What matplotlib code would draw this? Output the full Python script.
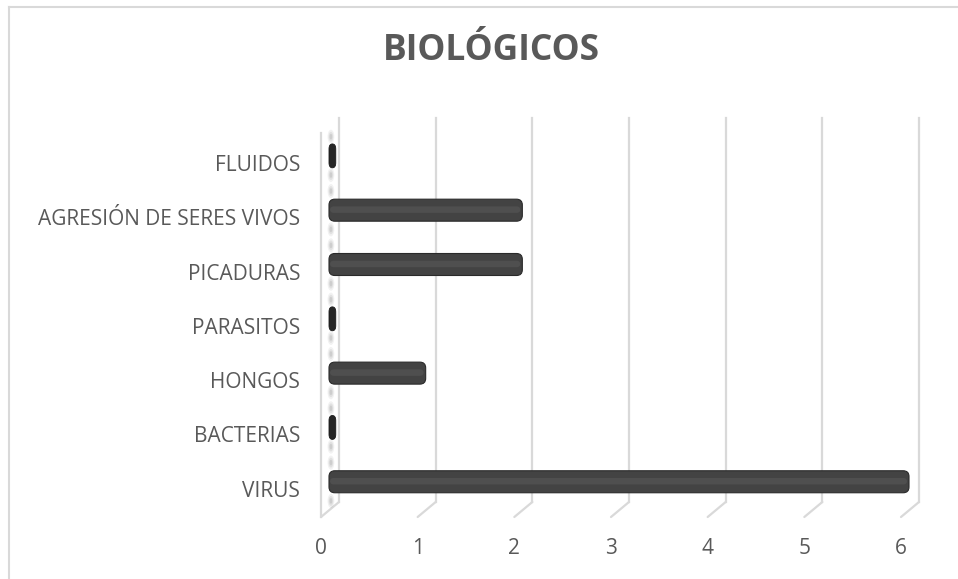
import numpy as np
import matplotlib
matplotlib.use("Agg")
from matplotlib import pyplot as plt
from matplotlib.patches import FancyBboxPatch, Ellipse
from matplotlib.lines import Line2D
from matplotlib.transforms import ScaledTranslation

# data (bottom to top, as drawn)
categories = ["VIRUS", "BACTERIAS", "HONGOS", "PARASITOS", "PICADURAS",
              "AGRESIÓN DE SERES VIVOS", "FLUIDOS"]
values = [6, 0, 1, 0, 2, 2, 0]
x_ticks = [0, 1, 2, 3, 4, 5, 6]
title = "BIOLÓGICOS"

TEXT = "#595959"
GRID = "#d9d9d9"
FONT = "Open Sans"

W, H = 958, 579
fig = plt.figure(figsize=(W / 100, H / 100), dpi=100)

# front plane of the pseudo 3d plot area (pixels)
left, right, top, bottom = 321, 901, 133, 517
ax = fig.add_axes([left / W, 1 - bottom / H, (right - left) / W, (bottom - top) / H])
ax.set_xlim(0, 6)
ax.set_ylim(-0.52, 6.55)
for s in ax.spines.values():
    s.set_visible(False)
ax.patch.set_alpha(0)

# depth offsets
dx_back, dy_back = 18, 15
back = ax.transData + ScaledTranslation(dx_back / 100, dy_back / 100, fig.dpi_scale_trans)
mid = ax.transData + ScaledTranslation(8 / 100, 7 / 100, fig.dpi_scale_trans)

ylo, yhi = ax.get_ylim()
# back wall gridlines + floor diagonals
for t in x_ticks:
    ax.plot([t, t], [ylo, yhi], color=GRID, lw=1.6, transform=back, zorder=1, clip_on=False)
    ax.annotate("", xy=(t, ylo), xytext=(dx_back * 0.72, dy_back * 0.72),
                textcoords="offset points", annotation_clip=False,
                arrowprops=dict(arrowstyle="-", color=GRID, lw=1.6, shrinkA=0, shrinkB=0),
                zorder=1)
# left wall front edge
ax.plot([0, 0], [ylo, yhi], color=GRID, lw=1.6, zorder=1, clip_on=False)

# bars
bar_h = 0.405
aspect = (580 / 6) / (384 / (yhi - ylo))
y_pos = np.arange(len(categories))
for y, v in zip(y_pos, values):
    # soft shadows on the wall
    for dy in (bar_h / 2 + 0.15, -bar_h / 2 - 0.15):
        for k, a in zip((1.0, 0.7, 0.4), (0.10, 0.14, 0.2)):
            ax.add_patch(Ellipse((0.02, y + dy), 0.07 * k, 0.26 * k, transform=mid,
                                 facecolor="#808080", edgecolor="none", alpha=a,
                                 zorder=2, clip_on=False))
    if v == 0:
        ax.add_patch(FancyBboxPatch((0, y - 0.22), 0.07, 0.44,
                                    boxstyle="round,pad=0,rounding_size=0.035",
                                    mutation_aspect=aspect * 1.5, transform=mid,
                                    facecolor="#262626", edgecolor="#1a1a1a", lw=0.6,
                                    zorder=3, clip_on=False))
        continue
    ax.add_patch(FancyBboxPatch((0, y - bar_h / 2), v, bar_h,
                                boxstyle="round,pad=0,rounding_size=0.06",
                                mutation_aspect=aspect, transform=mid,
                                facecolor="#434343", edgecolor="#2a2a2a", lw=0.8,
                                zorder=3, clip_on=False))
    ax.add_patch(FancyBboxPatch((0.01, y - 0.05), v - 0.03, 0.12,
                                boxstyle="round,pad=0,rounding_size=0.04",
                                mutation_aspect=aspect, transform=mid,
                                facecolor="#4f4f4f", edgecolor="none",
                                zorder=4, clip_on=False))

ax.set_xticks(x_ticks)
ax.set_xticklabels([str(t) for t in x_ticks], fontsize=15, color=TEXT, family=FONT)
ax.set_yticks(y_pos)
ax.set_yticklabels(categories, fontsize=15, color=TEXT, family=FONT)
ax.tick_params(axis="x", length=0, pad=15)
ax.tick_params(axis="y", length=0, pad=15)

fig.text(491 / W, 1 - 51 / H, title, ha="center", va="center", fontsize=25.5,
         fontweight="bold", color=TEXT, family=FONT)

# chart area border (only left and top visible)
fig.add_artist(Line2D([9 / W, 9 / W], [0, 1 - 7 / H], color=GRID, lw=1.5))
fig.add_artist(Line2D([9 / W, 1], [1 - 7 / H, 1 - 7 / H], color=GRID, lw=1.5))

fig.savefig("out.png", dpi=100)
